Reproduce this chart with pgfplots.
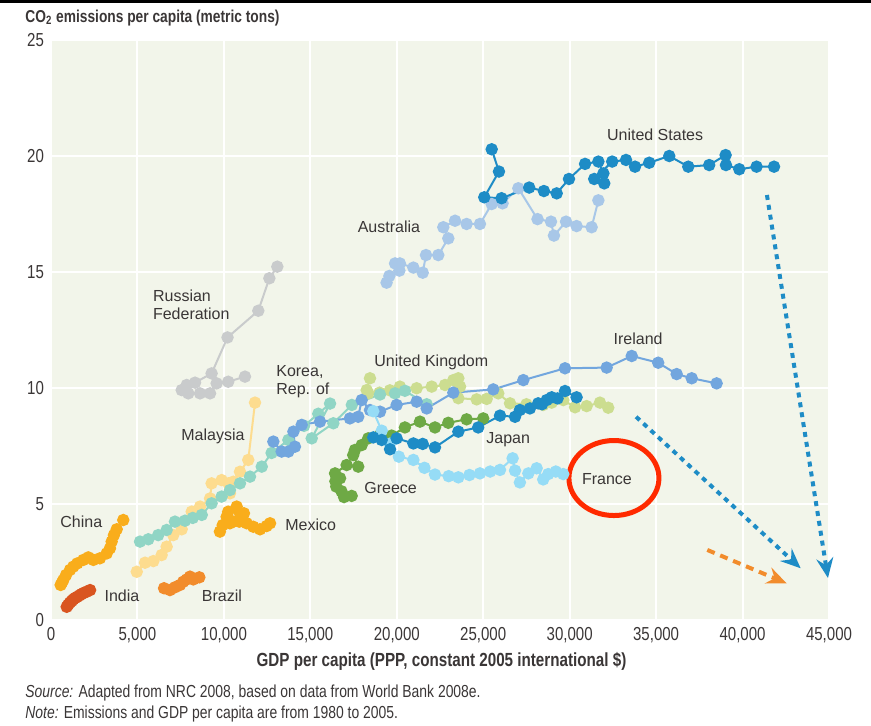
\documentclass[border=0pt]{standalone}
\usepackage{pgfplots}
\pgfplotsset{compat=1.18}
\usetikzlibrary{arrows.meta}
\usepackage{fontspec}
\setmainfont{Liberation Sans}
\newfontfamily\condfont[FakeStretch=0.8]{Liberation Sans}
\definecolor{bgcol}{HTML}{F2F5EA}
\definecolor{labcol}{HTML}{3A3636}
\definecolor{usblue}{HTML}{1E8CC6}
\definecolor{ausblue}{HTML}{A8C7E8}
\definecolor{ireblue}{HTML}{72A6DE}
\definecolor{ukgreen}{HTML}{CCDD90}
\definecolor{korteal}{HTML}{90D5C5}
\definecolor{grgreen}{HTML}{6EA945}
\definecolor{frcyan}{HTML}{96DCF6}
\definecolor{rusgrey}{HTML}{C9CBCC}
\definecolor{malyel}{HTML}{FDDC8F}
\definecolor{amber}{HTML}{F9AD1B}
\definecolor{brazor}{HTML}{F28C2C}
\definecolor{indred}{HTML}{D95520}
\definecolor{circred}{HTML}{FF2A00}
\tikzset{lab/.style={font=\fontsize{8}{9.6}\selectfont, text=labcol, anchor=west, inner sep=0pt}}
\begin{document}
\begin{tikzpicture}[x=1pt,y=1pt]
\useasboundingbox (-25.5,-52.5) rectangle (410,310);
\fill[black] (-25.5,310) rectangle (410,308.5);
\begin{axis}[
  at={(0,0)}, anchor=south west,
  scale only axis, width=389pt, height=290pt,
  xmin=0, xmax=45000, ymin=0, ymax=25,
  xtick={0,5000,...,45000}, ytick={0,5,...,25},
  scaled x ticks=false,
  axis background/.style={fill=bgcol},
  grid=major, major grid style={white, line width=1pt},
  axis line style={draw=none}, major tick length=0pt,
  ticklabel style={font=\condfont\fontsize{9.4}{10}\selectfont, text=labcol},
  /pgf/number format/assume math mode=true,
  /pgf/number format/1000 sep={,},
  clip=false,
  every axis plot/.append style={line width=1pt, mark=*, mark size=2.6pt, mark options={solid}},
]
% Russian Federation
\addplot[rusgrey] coordinates {(13090,15.23) (12630,14.73) (11990,13.33) (10210,12.18) (9290,10.63) (8330,10.23) (7850,10.13) (7560,9.91) (7940,9.77) (8620,9.77) (9200,9.77) (9580,10.20) (10250,10.27) (11220,10.49)};
% United Kingdom
\addplot[ukgreen] coordinates {(18450,10.42) (18260,9.91) (18350,9.77) (19000,9.80) (19600,9.90) (20180,10.06) (21150,9.99) (22020,10.06) (22790,10.13) (23270,10.34) (23560,10.42) (23660,10.06) (23560,9.56) (24620,9.51) (25200,9.53) (25870,9.77) (26550,9.34) (27500,9.30) (28470,9.27) (28960,9.37) (29630,9.48) (30310,9.17) (30980,9.22) (31750,9.37) (32230,9.15)};
% Malaysia
\addplot[malyel] coordinates {(4960,2.08) (5440,2.47) (5920,2.54) (6400,2.80) (6690,3.16) (7070,3.66) (7560,3.91) (8140,4.67) (8620,4.89) (9200,5.24) (9290,5.89) (9870,6.03) (10260,5.89) (10350,5.46) (10540,5.96) (10930,6.39) (11410,6.90) (11800,9.37)};
% Korea
\addplot[korteal] coordinates {(5150,3.38) (5630,3.48) (6200,3.66) (6690,3.88) (7170,4.24) (7750,4.28) (8200,4.40) (8720,4.53) (9290,5.03) (9870,5.32) (10350,5.60) (10930,5.89) (11510,6.18) (12190,6.61) (12760,7.20) (13730,7.76) (14640,8.37) (15460,8.89) (16140,9.33) (15080,7.83) (16330,8.48) (17400,9.27) (19030,9.72) (19900,9.77) (20470,9.88) (21730,9.30)};
% Ireland
\addplot[ireblue] coordinates {(12860,7.69) (13340,7.26) (13730,7.26) (14110,7.47) (14020,8.12) (14500,8.41) (15560,8.55) (17290,8.69) (17770,8.76) (17970,9.48) (18450,9.05) (19030,8.98) (19990,9.27) (21150,9.41) (21730,9.12) (23270,9.80) (25580,9.94) (27320,10.34) (29730,10.85) (32140,10.88) (33590,11.38) (35120,11.09) (36190,10.60) (37060,10.42) (38500,10.20)};
% Greece
\addplot[grgreen] coordinates {(17390,5.35) (16950,5.30) (16800,5.55) (16500,5.75) (16450,5.98) (16720,6.11) (16430,6.32) (17100,6.68) (17770,6.61) (17480,7.11) (17580,7.33) (17970,7.54) (18350,7.83) (19000,7.95) (19700,7.95) (20470,8.30) (21340,8.55) (22210,8.30) (22980,8.50) (24040,8.65) (25000,8.69)};
% France
\addplot[frcyan] coordinates {(18640,9.00) (19130,8.16) (19600,7.60) (20120,7.04) (20960,6.90) (21600,6.56) (22210,6.27) (23000,6.20) (23560,6.15) (24200,6.25) (24810,6.32) (25400,6.40) (25970,6.47) (26700,6.97) (26840,6.44) (27120,5.93) (27610,6.32) (28090,6.54) (28470,6.06) (28760,6.29) (29200,6.40) (29630,6.29)};
% Japan
\addplot[usblue] coordinates {(18640,7.87) (19130,7.76) (19610,7.36) (19990,7.83) (20960,7.61) (21500,7.59) (22210,7.44) (23560,8.12) (24710,8.30) (25970,8.81) (26840,8.76) (27120,9.05) (27700,9.12) (28180,9.34) (28400,9.30) (28670,9.48) (28960,9.60) (29300,9.55) (29730,9.87) (30400,9.60)};
% Mexico
\addplot[amber] coordinates {(10250,4.67) (10740,4.89) (10930,4.60) (10540,4.24) (10160,4.45) (9930,4.09) (9770,3.81) (10350,4.17) (10890,4.24) (11160,4.60) (11320,4.17) (11700,4.02) (12090,3.91) (12470,4.05) (12670,4.17)};
% China
\addplot[amber] coordinates {(560,1.51) (640,1.62) (710,1.72) (870,1.94) (1100,2.16) (1290,2.30) (1520,2.44) (1870,2.59) (2160,2.70) (2450,2.59) (2830,2.66) (3220,2.87) (3410,3.09) (3510,3.38) (3640,3.66) (3800,3.91) (4180,4.31)};
% India
\addplot[indred] coordinates {(910,0.57) (1000,0.66) (1100,0.75) (1200,0.82) (1290,0.89) (1400,0.95) (1520,1.00) (1650,1.06) (1770,1.12) (1900,1.17) (2060,1.22) (2260,1.29)};
% Brazil
\addplot[brazor] coordinates {(6540,1.37) (6880,1.29) (7170,1.41) (7460,1.51) (7650,1.65) (7850,1.75) (8040,1.87) (8230,1.75) (8580,1.84)};
% Australia
\addplot[ausblue] coordinates {(19410,14.54) (19570,14.83) (20150,15.06) (19900,15.37) (20180,15.37) (20960,15.19) (21500,14.97) (21690,15.73) (22400,15.73) (22980,16.45) (22690,16.93) (23370,17.21) (24040,17.07) (24810,17.07) (25490,17.93) (26120,17.96) (27030,18.61) (28140,17.28) (28920,17.17) (29090,16.57) (29790,17.17) (30400,16.98) (31270,16.93) (31660,18.09)};
% United States
\addplot[usblue] coordinates {(25490,20.29) (25910,19.33) (25060,18.22) (26060,18.18) (27660,18.64) (28510,18.49) (29250,18.39) (29960,19.01) (30890,19.66) (31660,19.76) (31950,19.25) (32000,18.82) (31420,19.01) (32460,19.76) (33260,19.83) (33780,19.54) (34600,19.71) (35760,20.00) (36860,19.54) (38070,19.61) (39020,20.04) (39040,19.61) (39810,19.43) (40810,19.54) (41820,19.54)};
% labels
\node[lab] at (axis cs:520,4.24) {China};
\node[lab] at (axis cs:3080,1.03) {India};
\node[lab] at (axis cs:8710,1.03) {Brazil};
\node[lab] at (axis cs:13530,4.09) {Mexico};
\node[lab] at (axis cs:5880,13.97) {Russian};
\node[lab] at (axis cs:5880,13.19) {Federation};
\node[lab] at (axis cs:7520,7.90) {Malaysia};
\node[lab] at (axis cs:13010,10.70) {Korea,};
\node[lab] at (axis cs:13010,9.91) {Rep. of};
\node[lab] at (axis cs:18680,11.09) {United Kingdom};
\node[lab] at (axis cs:18100,5.68) {Greece};
\node[lab] at (axis cs:25160,7.79) {Japan};
\node[lab] at (axis cs:30690,6.08) {France};
\node[lab] at (axis cs:32520,12.14) {Ireland};
\node[lab] at (axis cs:17720,16.93) {Australia};
\node[lab] at (axis cs:32140,20.91) {United States};
% annotations
\draw[circred, line width=2.5pt] (axis cs:32560,6.12) ellipse [x radius=22.5pt, y radius=18.75pt];
\draw[usblue, line width=2pt, dash pattern=on 2.5pt off 2.5pt, -{Stealth[length=10pt,width=8.5pt,inset=3.5pt]}] (axis cs:41410,18.32) -- (axis cs:44940,1.81);
\draw[usblue, line width=2pt, dash pattern=on 2.5pt off 2.5pt, -{Stealth[length=10pt,width=8.5pt,inset=3.5pt]}] (axis cs:33840,8.76) -- (axis cs:43360,2.23);
\draw[brazor, line width=2pt, dash pattern=on 4pt off 3pt, -{Stealth[length=10pt,width=8.5pt,inset=3.5pt]}] (axis cs:37960,3.02) -- (axis cs:42550,1.58);
\end{axis}
\node[anchor=west, inner sep=0pt, text=labcol, font=\condfont\bfseries\fontsize{8.6}{10}\selectfont] at (-13,301) {CO\textsubscript{2} emissions per capita (metric tons)};
\node[inner sep=0pt, text=labcol, font=\condfont\bfseries\fontsize{9.5}{11}\selectfont] at (195.25,-20.5) {GDP per capita (PPP, constant 2005 international \$)};
\node[anchor=west, inner sep=0pt, text=labcol, font=\condfont\fontsize{8.7}{10}\selectfont] at (-13,-36.5) {\textit{Source:} Adapted from NRC 2008, based on data from World Bank 2008e.};
\node[anchor=west, inner sep=0pt, text=labcol, font=\condfont\fontsize{8.7}{10}\selectfont] at (-13,-47) {\textit{Note:} Emissions and GDP per capita are from 1980 to 2005.};
\end{tikzpicture}
\end{document}
